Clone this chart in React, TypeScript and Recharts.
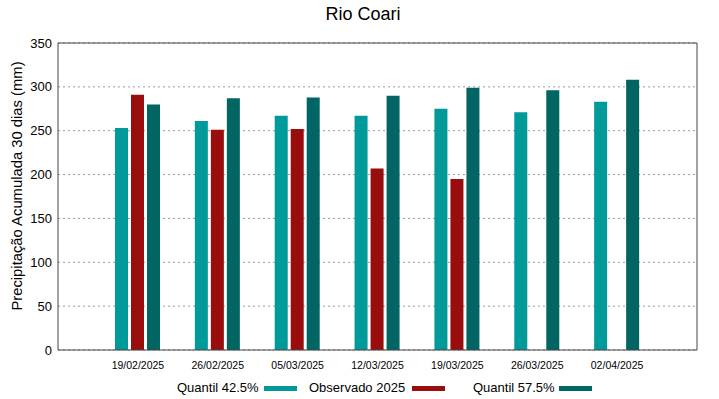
import React from 'react';
import { BarChart, Bar, XAxis, YAxis, CartesianGrid, ReferenceLine } from 'recharts';

const dates = ['19/02/2025', '26/02/2025', '05/03/2025', '12/03/2025', '19/03/2025', '26/03/2025', '02/04/2025'];
const quantil425 = [253, 261, 267, 267, 275, 271, 283];
const observado = [291, 251, 252, 207, 195, null, null];
const quantil575 = [280, 287, 288, 290, 299, 296, 308];
const yTicks = [0, 50, 100, 150, 200, 250, 300, 350];

const COLORS = { q425: '#009a9a', obs: '#990d0d', q575: '#006563' };
const FONT = '"Liberation Sans", Arial, sans-serif';

const data = dates.map((d, i) => ({
    date: d,
    q425: quantil425[i],
    obs: observado[i],
    q575: quantil575[i],
}));

const legendItems = [
    { label: 'Quantil 42.5%', color: COLORS.q425, textLeft: 177, swatchLeft: 264 },
    { label: 'Observado 2025', color: COLORS.obs, textLeft: 309, swatchLeft: 412 },
    { label: 'Quantil 57.5%', color: COLORS.q575, textLeft: 473, swatchLeft: 559 },
];

const App: React.FC = () => {
    return (
        <div style={{ position: 'absolute', left: 0, top: 0, width: 719, height: 399, background: '#fff', fontFamily: FONT }}>
            <div style={{ position: 'absolute', left: 0, width: 726, top: 4, textAlign: 'center', fontSize: 18, color: '#000' }}>
                Rio Coari
            </div>
            <div
                style={{
                    position: 'absolute',
                    left: 17,
                    top: 186,
                    transform: 'translate(-50%, -50%) rotate(-90deg)',
                    whiteSpace: 'nowrap',
                    fontSize: 14.8,
                    color: '#000',
                }}
            >
                Precipitação Acumulada 30 dias (mm)
            </div>
            <BarChart
                width={719}
                height={399}
                data={data}
                margin={{ top: 43, right: 22, left: 0, bottom: 19 }}
                barSize={13}
                barGap={3}
                style={{ position: 'absolute', left: 0, top: 0 }}
            >
                <CartesianGrid vertical={false} stroke="#999" strokeDasharray="2 3" />
                <XAxis
                    dataKey="date"
                    height={30}
                    padding={{ left: 40, right: 40 }}
                    tickLine={false}
                    tickSize={0}
                    tickMargin={12}
                    interval={0}
                    axisLine={{ stroke: '#444' }}
                    tick={{ fontSize: 10.5, fill: '#000', fontFamily: FONT }}
                />
                <YAxis
                    width={58}
                    domain={[0, 350]}
                    ticks={yTicks}
                    tickLine={false}
                    tickSize={0}
                    tickMargin={6}
                    axisLine={{ stroke: '#444' }}
                    tick={{ fontSize: 13, fill: '#000', fontFamily: FONT }}
                />
                <YAxis
                    yAxisId="leftIn"
                    orientation="left"
                    mirror
                    domain={[0, 350]}
                    ticks={yTicks}
                    tickSize={5}
                    axisLine={false}
                    tickLine={{ stroke: '#444' }}
                    tickFormatter={() => ''}
                />
                <YAxis
                    yAxisId="right"
                    orientation="right"
                    mirror
                    domain={[0, 350]}
                    ticks={yTicks}
                    tickSize={5}
                    axisLine={{ stroke: '#444' }}
                    tickLine={{ stroke: '#444' }}
                    tickFormatter={() => ''}
                />
                <ReferenceLine y={350} stroke="#444" />
                <Bar dataKey="q425" fill={COLORS.q425} isAnimationActive={false} />
                <Bar dataKey="obs" fill={COLORS.obs} isAnimationActive={false} />
                <Bar dataKey="q575" fill={COLORS.q575} isAnimationActive={false} />
            </BarChart>
            {legendItems.map((item) => (
                <React.Fragment key={item.label}>
                    <div
                        style={{
                            position: 'absolute',
                            left: item.textLeft,
                            top: 380,
                            fontSize: 13,
                            lineHeight: '16px',
                            color: '#000',
                            whiteSpace: 'nowrap',
                        }}
                    >
                        {item.label}
                    </div>
                    <div
                        style={{
                            position: 'absolute',
                            left: item.swatchLeft,
                            top: 386,
                            width: 33,
                            height: 5,
                            background: item.color,
                        }}
                    />
                </React.Fragment>
            ))}
        </div>
    );
};

export default App;
